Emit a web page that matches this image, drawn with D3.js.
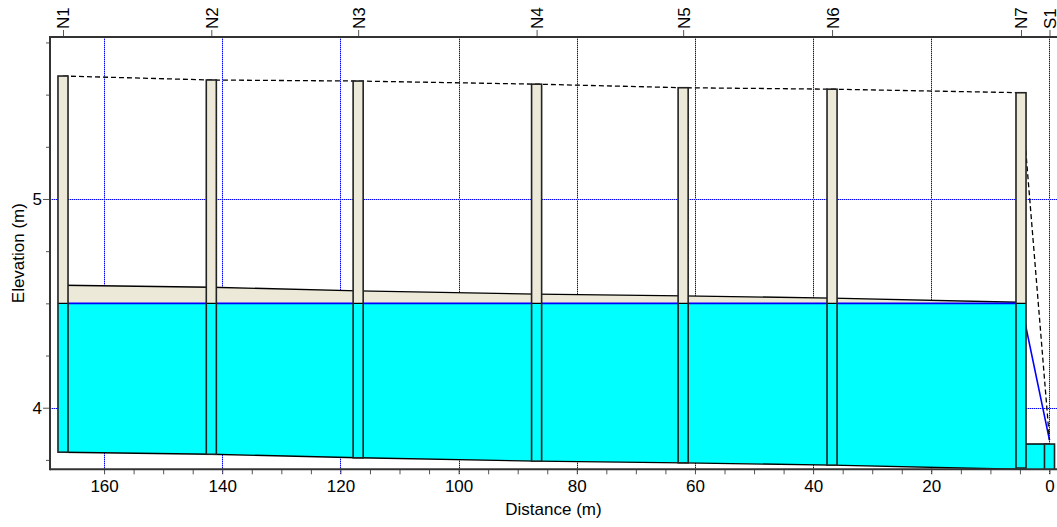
<!DOCTYPE html>
<html><head><meta charset="utf-8">
<script src="https://cdn.jsdelivr.net/npm/d3@7"></script>
<style>
body{margin:0;background:#fff}
svg{display:block}
text{font-family:"Liberation Sans",Arial,sans-serif;font-size:17px;fill:#000}
</style>
</head><body>
<svg id="c" width="1057" height="527"></svg>
<script>
// ---- data ----
const nodeNames  = ["N1","N2","N3","N4","N5","N6","N7","S1"];
const nodeDist   = [166.95, 141.85, 117.0, 86.8, 62.0, 36.8, 4.82, 0];
const rimElev    = [5.589, 5.570, 5.565, 5.550, 5.533, 5.526, 5.509, 3.826];
const groundElev = [5.589, 5.570, 5.565, 5.550, 5.533, 5.526, 5.509, 3.845];
const invertElev = [3.787, 3.777, 3.760, 3.744, 3.736, 3.725, 3.711, 3.626];
const waterElev  = [4.5, 4.5, 4.5, 4.5, 4.5, 4.5, 4.5, 3.845];
const linkInvUp  = [3.787, 3.777, 3.760, 3.744, 3.736, 3.725, 3.626];
const linkInvDn  = [3.777, 3.760, 3.744, 3.736, 3.725, 3.705, 3.626];
const linkDiam   = [0.8, 0.8, 0.8, 0.8, 0.8, 0.8, 0.2];
const xTicks     = d3.range(0, 165, 5);
const xLabelTicks= [0, 20, 40, 60, 80, 100, 120, 140, 160];
const yTicks     = [3.75, 4, 4.25, 4.5, 4.75, 5, 5.25, 5.5, 5.75];
const yLabelTicks= [4, 5];
const xDomain    = [169.15, -1.27];
const yDomain    = [3.705, 5.776];
const manholeWidth = 1.7;

// ---- layout ----
const L = 50, R = 1057, T = 37, B = 469.3;
const svg = d3.select("#c");
const x = d3.scaleLinear().domain(xDomain).range([L, R]);
const y = d3.scaleLinear().domain(yDomain).range([B, T]);
const beige = "#ECE9D8", cyan = "#00FFFF", blue = "#0000FF";
const crisp = v => Math.round(v) + 0.5;

const defs = svg.append("defs");
defs.append("clipPath").attr("id","plotClip").append("rect")
  .attr("x", L).attr("y", T).attr("width", R - L).attr("height", B - T);

// gridlines
const grid = svg.append("g").attr("shape-rendering", "crispEdges");
function gridLine(x1, x2, y1, y2) {
  grid.append("line").attr("x1", x1).attr("x2", x2).attr("y1", y1).attr("y2", y2)
    .attr("stroke", "#9999FF").attr("stroke-width", 1);
  grid.append("line").attr("x1", x1).attr("x2", x2).attr("y1", y1).attr("y2", y2)
    .attr("stroke", blue).attr("stroke-width", 1).attr("stroke-dasharray", "1,1");
}
xLabelTicks.forEach(v => gridLine(crisp(x(v)), crisp(x(v)), T, B + 5));
yLabelTicks.forEach(v => gridLine(L, R, crisp(y(v)), crisp(y(v))));

const plot = svg.append("g").attr("clip-path", "url(#plotClip)");

// links (pipes)
d3.range(linkDiam.length).forEach(i => {
  const d0 = nodeDist[i], d1 = nodeDist[i+1];
  const i0 = linkInvUp[i], i1 = linkInvDn[i], D = linkDiam[i];
  const pipePts = [[x(d0), y(i0)], [x(d1), y(i1)], [x(d1), y(i1 + D)], [x(d0), y(i0 + D)]];
  const cid = "pipe" + i;
  defs.append("clipPath").attr("id", cid).append("polygon").attr("points", pipePts.map(p => p.join(",")).join(" "));
  plot.append("polygon").attr("points", pipePts.map(p => p.join(",")).join(" ")).attr("fill", beige);
  const wPts = [[x(d0), y(i0)], [x(d1), y(i1)], [x(d1), y(waterElev[i+1])], [x(d0), y(waterElev[i])]];
  plot.append("polygon").attr("points", wPts.map(p => p.join(",")).join(" "))
    .attr("fill", cyan).attr("clip-path", "url(#" + cid + ")");
  plot.append("line").attr("x1", x(d0)).attr("x2", x(d1)).attr("y1", y(i0)).attr("y2", y(i1))
    .attr("stroke", "#000").attr("stroke-width", 1.4);
  plot.append("line").attr("x1", x(d0)).attr("x2", x(d1)).attr("y1", y(i0 + D)).attr("y2", y(i1 + D))
    .attr("stroke", "#000").attr("stroke-width", 1.4);
});

// water surface line
const lineGen = d3.line().x(d => x(d[0])).y(d => y(d[1]));
plot.append("path").attr("d", lineGen(nodeDist.map((d, i) => [d, waterElev[i]])))
  .attr("fill", "none").attr("stroke", blue).attr("stroke-width", 1.6);

// ground line (dashed)
plot.append("path").attr("d", lineGen(nodeDist.map((d, i) => [d, groundElev[i]])))
  .attr("fill", "none").attr("stroke", "#000").attr("stroke-width", 1.3).attr("stroke-dasharray", "5,3");

// nodes (manholes)
nodeNames.forEach((n, i) => {
  const xa = x(nodeDist[i] + manholeWidth / 2), xb = x(nodeDist[i] - manholeWidth / 2);
  const yt = y(rimElev[i]), yb = y(invertElev[i]);
  const wl = Math.min(waterElev[i], rimElev[i]);
  plot.append("rect").attr("x", xa).attr("y", yt).attr("width", xb - xa).attr("height", yb - yt).attr("fill", beige);
  plot.append("rect").attr("x", xa).attr("y", y(wl)).attr("width", xb - xa).attr("height", yb - y(wl)).attr("fill", cyan);
  if (waterElev[i] < rimElev[i]) {
    plot.append("line").attr("x1", xa).attr("x2", xb).attr("y1", y(wl)).attr("y2", y(wl))
      .attr("stroke", "#000").attr("stroke-width", 1.2);
  }
  plot.append("rect").attr("x", xa).attr("y", yt).attr("width", xb - xa).attr("height", yb - yt)
    .attr("fill", "none").attr("stroke", "#222").attr("stroke-width", 1.6);
});

// axes
const tickColor = "#555";
const xAxis = svg.append("g").attr("transform", `translate(0,${B})`)
  .call(d3.axisBottom(x).tickValues(xTicks).tickSize(5)
    .tickFormat(d => xLabelTicks.includes(d) ? d : ""));
xAxis.select(".domain").remove();
xAxis.selectAll(".tick line").attr("stroke", tickColor);
xAxis.selectAll(".tick text").attr("y", 11).attr("font-size", 17);

const yAxis = svg.append("g").attr("transform", `translate(${L},0)`)
  .call(d3.axisLeft(y).tickValues(yTicks)
    .tickFormat(d => yLabelTicks.includes(d) ? d : ""));
yAxis.select(".domain").remove();
yAxis.selectAll(".tick line").attr("stroke", tickColor)
  .attr("x2", d => yLabelTicks.includes(d) ? -7 : -4);
yAxis.selectAll(".tick text").attr("x", -8).attr("font-size", 17);

const topAxis = svg.append("g").attr("transform", `translate(0,${T})`)
  .call(d3.axisTop(x).tickValues(nodeDist).tickSize(7)
    .tickFormat((d, i) => nodeNames[i]));
topAxis.select(".domain").remove();
topAxis.selectAll(".tick line").attr("stroke", tickColor);
topAxis.selectAll(".tick text")
  .attr("x", 0).attr("y", 0).attr("dy", "0.35em")
  .attr("transform", "translate(0,-8) rotate(-90)")
  .attr("text-anchor", "start").attr("font-size", 16);

// frame
const frame = svg.append("g").attr("stroke", "#333").attr("stroke-width", 2);
frame.append("line").attr("x1", L).attr("x2", L).attr("y1", T - 1).attr("y2", B + 1);
frame.append("line").attr("x1", L).attr("x2", R).attr("y1", T).attr("y2", T);
frame.append("line").attr("x1", L).attr("x2", R).attr("y1", B).attr("y2", B);

// titles
svg.append("text").attr("x", (L + R) / 2).attr("y", 515).attr("text-anchor", "middle").text("Distance (m)");
svg.append("text").attr("transform", `translate(24,${(T + B) / 2}) rotate(-90)`).attr("text-anchor", "middle").text("Elevation (m)");
</script>
</body></html>
